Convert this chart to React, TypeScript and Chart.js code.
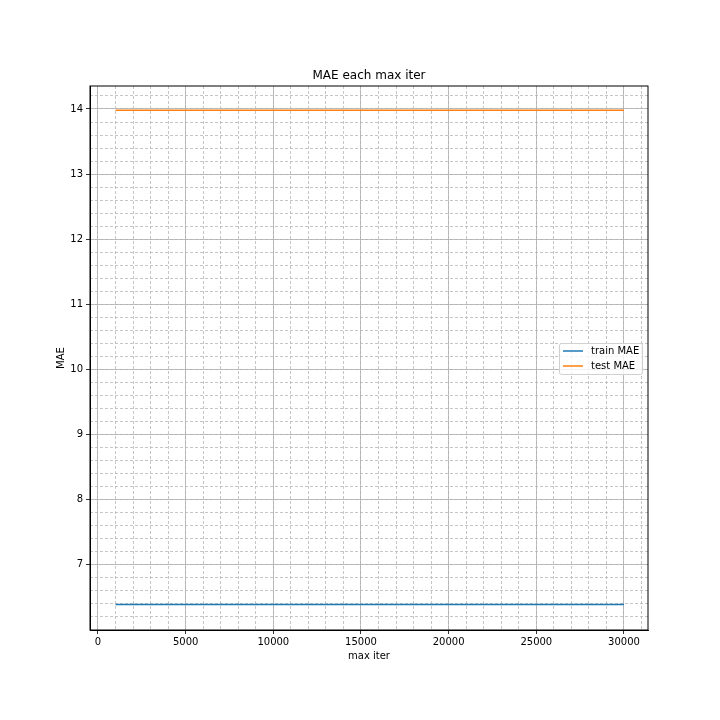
import { useEffect, useRef } from 'react'
import { Chart, registerables } from 'chart.js'

Chart.register(...registerables)

const maxIters = [1000, 5000, 10000, 15000, 20000, 25000, 30000]
const trainMae = [6.39, 6.39, 6.39, 6.39, 6.39, 6.39, 6.39]
const testMae = [13.98, 13.98, 13.98, 13.98, 13.98, 13.98, 13.98]
const xMajor = [0, 5000, 10000, 15000, 20000, 25000, 30000]
const yMajor = [7, 8, 9, 10, 11, 12, 13, 14]

const X_MIN = -456
const X_MAX = 31370
const Y_MIN = 6.0
const Y_MAX = 14.353

// matplotlib-style frame, titles and legend
const decorations = {
  id: 'decorations',
  afterDatasetsDraw(chart: Chart) {
    const { ctx, chartArea: a } = chart
    ctx.save()
    ctx.strokeStyle = '#000'
    ctx.lineWidth = 1
    ctx.strokeRect(a.left, a.top, a.right - a.left, a.bottom - a.top)

    ctx.fillStyle = '#000'
    ctx.textAlign = 'center'
    ctx.textBaseline = 'middle'
    ctx.font = '12px "DejaVu Sans"'
    ctx.fillText('MAE each max iter', (a.left + a.right) / 2, a.top - 10)
    ctx.font = '10px "DejaVu Sans"'
    ctx.fillText('max iter', (a.left + a.right) / 2, a.bottom + 26)
    ctx.save()
    ctx.translate(a.left - 29, (a.top + a.bottom) / 2)
    ctx.rotate(-Math.PI / 2)
    ctx.fillText('MAE', 0, 0)
    ctx.restore()

    const x = a.right - 89
    const y = a.top + 257
    const w = 83
    const h = 31
    ctx.fillStyle = 'rgba(255,255,255,0.8)'
    ctx.strokeStyle = '#d0d0d0'
    ctx.beginPath()
    ctx.roundRect(x + 0.5, y + 0.5, w, h, 2)
    ctx.fill()
    ctx.stroke()
    ctx.textAlign = 'left'
    chart.data.datasets.forEach((ds, i) => {
      const ly = y + 8 + i * 15
      ctx.strokeStyle = ds.borderColor as string
      ctx.lineWidth = 1.5
      ctx.beginPath()
      ctx.moveTo(x + 4, ly)
      ctx.lineTo(x + 24, ly)
      ctx.stroke()
      ctx.fillStyle = '#000'
      ctx.fillText(ds.label as string, x + 32, ly)
    })
    ctx.restore()
  },
}

export default function App() {
  const ref = useRef<HTMLCanvasElement>(null)

  useEffect(() => {
    if (!ref.current) return
    const font = { family: '"DejaVu Sans"', size: 10 }
    const chart = new Chart(ref.current, {
      type: 'line',
      data: {
        datasets: [
          {
            label: 'train MAE',
            data: maxIters.map((x, i) => ({ x, y: trainMae[i] })),
            borderColor: '#1f77b4',
            borderWidth: 1.5,
            pointRadius: 0,
            xAxisID: 'x',
            yAxisID: 'y',
          },
          {
            label: 'test MAE',
            data: maxIters.map((x, i) => ({ x, y: testMae[i] })),
            borderColor: '#ff7f0e',
            borderWidth: 1.5,
            pointRadius: 0,
            xAxisID: 'x',
            yAxisID: 'y',
          },
        ],
      },
      options: {
        animation: false,
        responsive: false,
        layout: { padding: { top: 86, right: 72, left: 0, bottom: 0 } },
        plugins: {
          legend: { display: false },
          tooltip: { enabled: false },
        },
        scales: {
          xm: {
            type: 'linear',
            position: 'bottom',
            min: X_MIN,
            max: X_MAX,
            weight: 0,
            afterFit: (s) => { s.height = 0 },
            afterBuildTicks: (s) => {
              const t = []
              for (let v = 0; v <= 31000; v += 1000) t.push({ value: v })
              s.ticks = t
            },
            ticks: { display: false },
            grid: { color: '#b8b8b8', lineWidth: 0.8, drawTicks: false },
            border: { display: false, dash: [3, 2] },
          },
          ym: {
            type: 'linear',
            position: 'left',
            min: Y_MIN,
            max: Y_MAX,
            weight: 0,
            afterFit: (s) => { s.width = 0 },
            afterBuildTicks: (s) => {
              const t = []
              for (let k = 31; k <= 71; k++) t.push({ value: k / 5 })
              s.ticks = t
            },
            ticks: { display: false },
            grid: { color: '#b8b8b8', lineWidth: 0.8, drawTicks: false },
            border: { display: false, dash: [3, 2] },
          },
          x: {
            type: 'linear',
            position: 'bottom',
            min: X_MIN,
            max: X_MAX,
            weight: 1,
            afterFit: (s) => { s.height = 90 },
            afterBuildTicks: (s) => { s.ticks = xMajor.map((value) => ({ value })) },
            ticks: { color: '#000', font, maxRotation: 0, padding: 2, callback: (v) => String(v) },
            grid: { color: '#b0b0b0', lineWidth: 0.8, tickLength: 4, tickColor: '#000' },
            border: { color: '#000', width: 1 },
          },
          y: {
            type: 'linear',
            position: 'left',
            min: Y_MIN,
            max: Y_MAX,
            weight: 1,
            afterFit: (s) => { s.width = 90 },
            afterBuildTicks: (s) => { s.ticks = yMajor.map((value) => ({ value })) },
            ticks: { color: '#000', font, padding: 3, callback: (v) => String(v) },
            grid: { color: '#b0b0b0', lineWidth: 0.8, tickLength: 4, tickColor: '#000' },
            border: { color: '#000', width: 1 },
          },
        },
      },
      plugins: [decorations],
    })
    return () => chart.destroy()
  }, [])

  return (
    <div style={{ position: 'absolute', left: 0, top: 0, width: 720, height: 720, background: '#fff' }}>
      <canvas ref={ref} width={720} height={720} />
    </div>
  )
}
